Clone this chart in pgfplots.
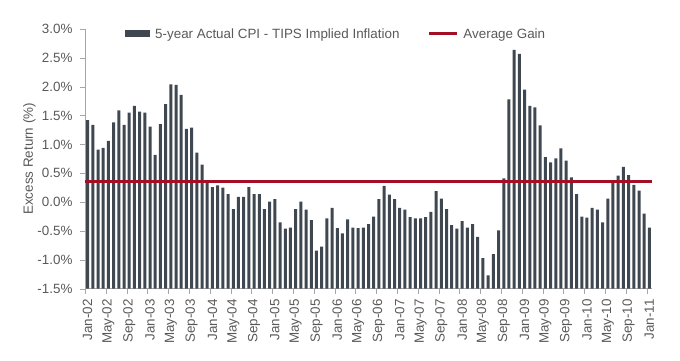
\documentclass[border=0pt]{standalone}
\usepackage{fontspec}
\setmainfont{Liberation Sans}
\usepackage{pgfplots}
\pgfplotsset{compat=1.18}
\usepackage{pgfplotstable}
\definecolor{barc}{HTML}{3F4850}
\definecolor{redc}{HTML}{A50F25}
\definecolor{txt}{HTML}{595959}
\definecolor{axc}{HTML}{A6A6A6}

\pgfplotstableread{
i v
0 1.42
1 1.34
2 0.91
3 0.94
4 1.06
5 1.38
6 1.59
7 1.34
8 1.55
9 1.67
10 1.57
11 1.55
12 1.31
13 0.82
14 1.35
15 1.70
16 2.04
17 2.03
18 1.86
19 1.27
20 1.29
21 0.86
22 0.65
23 0.33
24 0.26
25 0.29
26 0.25
27 0.14
28 -0.12
29 0.09
30 0.09
31 0.26
32 0.14
33 0.14
34 -0.12
35 0.01
36 0.05
37 -0.35
38 -0.46
39 -0.44
40 -0.12
41 0.01
42 -0.13
43 -0.31
44 -0.84
45 -0.77
46 -0.28
47 -0.10
48 -0.45
49 -0.54
50 -0.30
51 -0.44
52 -0.45
53 -0.44
54 -0.38
55 -0.25
56 0.05
57 0.28
58 0.13
59 0.05
60 -0.10
61 -0.13
62 -0.26
63 -0.28
64 -0.28
65 -0.26
66 -0.17
67 0.19
68 0.06
69 -0.12
70 -0.40
71 -0.46
72 -0.33
73 -0.44
74 -0.38
75 -0.60
76 -0.97
77 -1.27
78 -0.90
79 -0.49
80 0.41
81 1.78
82 2.64
83 2.57
84 1.95
85 1.67
86 1.64
87 1.33
88 0.78
89 0.69
90 0.76
91 0.93
92 0.72
93 0.43
94 0.14
95 -0.25
96 -0.27
97 -0.10
98 -0.13
99 -0.35
100 0.06
101 0.33
102 0.46
103 0.61
104 0.47
105 0.30
106 0.20
107 -0.20
108 -0.44
}\data

\begin{document}
\begin{tikzpicture}
\useasboundingbox (0,0) rectangle (680bp,361bp);
\begin{axis}[
  at={(85bp,72.3bp)}, anchor=south west,
  scale only axis, width=567bp, height=259.7bp,
  xmin=-0.5, xmax=108.5, ymin=0, ymax=4.5,
  axis lines*=left,
  axis line style={draw=axc},
  tick align=outside,
  major tick length=5bp,
  ytick={0,0.5,1,1.5,2,2.5,3,3.5,4,4.5},
  yticklabels={-1.5\%,-1.0\%,-0.5\%,0.0\%,0.5\%,1.0\%,1.5\%,2.0\%,2.5\%,3.0\%},
  ytick style={draw=axc},
  xtick={0,4,...,108},
  xticklabels={Jan-02,May-02,Sep-02,Jan-03,May-03,Sep-03,Jan-04,May-04,Sep-04,Jan-05,May-05,Sep-05,Jan-06,May-06,Sep-06,Jan-07,May-07,Sep-07,Jan-08,May-08,Sep-08,Jan-09,May-09,Sep-09,Jan-10,May-10,Sep-10,Jan-11},
  xtick style={draw=none},
  extra x ticks={-0.5,3.5,...,107.5},
  extra x tick labels={},
  extra x tick style={xtick style={draw=axc}},
  ticklabel style={font=\fontsize{13.4bp}{15bp}\selectfont, text=txt},
  yticklabel style={xshift=-4bp},
  xticklabel style={rotate=90, anchor=east, xshift=-2bp},
  ylabel={Excess Return (\%)},
  ylabel shift=-5bp,
  ylabel style={font=\fontsize{13.4bp}{15bp}\selectfont, text=txt},
  legend style={at={(0.443,0.981)}, anchor=center, draw=none, fill=none,
    legend columns=2, font=\fontsize{13.4bp}{15bp}\selectfont, text=txt,
    /tikz/every odd column/.append style={column sep=3bp},
    /tikz/every even column/.append style={column sep=26bp}},
]
\addplot[ybar, bar width=3bp, bar shift=0pt, fill=barc, draw=none,
  legend image code/.code={\fill[barc] (0bp,-3.5bp) rectangle (25bp,3.5bp);}]
  table[x=i, y expr=\thisrow{v}+1.5] {\data};
\addlegendentry{5-year Actual CPI - TIPS Implied Inflation}
\addplot[redc, line width=3bp,
  legend image code/.code={\draw[redc, line width=3bp] (0bp,0bp) -- (28bp,0bp);}]
  coordinates {(-0.5,1.85) (108.5,1.85)};
\addlegendentry{Average Gain}
\end{axis}
\end{tikzpicture}
\end{document}
